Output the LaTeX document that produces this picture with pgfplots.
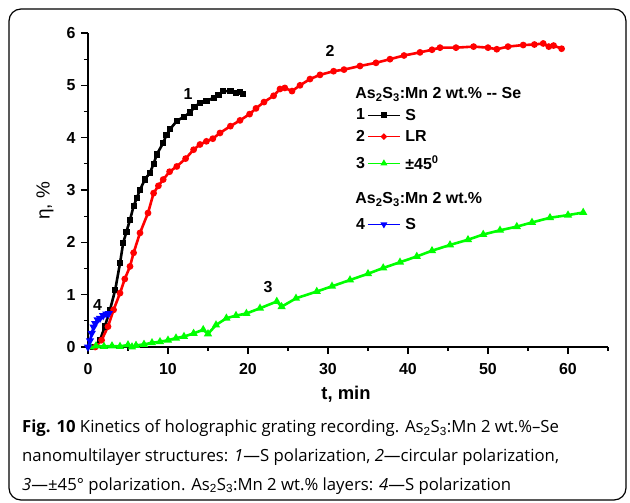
\documentclass[border=0pt]{standalone}
\usepackage{fontspec}
\usepackage{pgfplots}
\pgfplotsset{compat=1.18}
\setmainfont{Liberation Sans}
\newfontfamily\capfont{Open Sans}

\pgfplotstableread{
x y
0.7 0
1.5 0.13
2.1 0.39
2.75 0.71
3.4 1.09
4.0 1.6
4.4 1.99
4.8 2.2
5.25 2.43
5.7 2.69
6.1 2.85
6.5 3.0
7.1 3.2
7.75 3.33
8.2 3.5
8.6 3.68
9.4 3.9
9.8 4.05
10.25 4.16
11.1 4.32
12.0 4.4
12.75 4.48
13.3 4.58
14.0 4.67
14.8 4.7
15.7 4.76
16.3 4.82
16.9 4.89
17.8 4.89
18.5 4.85
19.0 4.88
19.4 4.84
}\sone

\pgfplotstableread{
x y
0.9 0
1.7 0.13
2.5 0.39
3.2 0.71
4.0 1.03
4.6 1.3
5.25 1.54
5.7 1.8
6.5 2.18
7.5 2.56
8.2 2.94
8.8 3.08
9.4 3.2
10.2 3.35
11.1 3.45
12.2 3.6
13.2 3.77
14.0 3.87
14.8 3.93
15.6 3.98
16.5 4.09
17.8 4.22
19.0 4.33
20.2 4.45
21.0 4.56
22.0 4.68
23.2 4.8
24.0 4.93
24.6 4.95
25.5 4.89
26.5 5.0
27.75 5.12
29.0 5.2
30.7 5.27
32.0 5.3
34.0 5.37
36.0 5.43
37.75 5.5
39.5 5.57
41.5 5.63
43.0 5.68
44.0 5.72
46.0 5.72
48.2 5.74
50.0 5.72
51.1 5.69
52.5 5.74
54.4 5.77
55.8 5.78
56.9 5.8
57.6 5.74
58.2 5.76
59.2 5.7
}\stwo

\pgfplotstableread{
x y
0.3 0
1.0 0.02
2.0 0.01
3.0 0.02
4.0 0.01
5.0 0.04
5.5 0.0
6.0 0.03
7.0 0.05
8.0 0.08
9.0 0.1
10.0 0.13
11.0 0.17
12.0 0.2
13.2 0.26
14.4 0.33
15.0 0.25
16.0 0.42
17.3 0.55
18.5 0.6
19.8 0.64
21.5 0.74
23.6 0.87
24.2 0.77
26.0 0.93
28.6 1.06
30.5 1.16
32.75 1.28
35.0 1.4
36.9 1.51
39.0 1.62
41.1 1.73
43.0 1.84
45.25 1.95
47.5 2.05
49.4 2.15
51.5 2.23
53.6 2.3
55.5 2.38
57.75 2.47
60.0 2.52
61.9 2.57
}\sthree

\pgfplotstableread{
x y
0 0
0.25 0.12
0.46 0.26
0.7 0.38
0.9 0.45
1.2 0.52
1.5 0.55
1.9 0.6
2.3 0.63
2.6 0.64
}\sfour

\begin{document}
\begin{tikzpicture}
\path[use as bounding box] (0,0) rectangle (630bp,503bp);
\draw[line width=1.2bp, rounded corners=12bp] (9bp,3bp) rectangle (626bp,494bp);

\begin{axis}[
    at={(88bp,156bp)}, anchor=south west,
    width=520bp, height=314bp, scale only axis,
    xmin=0, xmax=65, ymin=0, ymax=6,
    axis x line*=bottom, axis y line*=left,
    axis line style={line width=1.3bp},
    xtick={0,10,...,60}, minor xtick={5,15,...,65},
    ytick={0,1,...,6}, minor ytick={0.5,1.5,...,5.5},
    tick align=outside,
    major tick length=7bp, minor tick length=4bp,
    every tick/.style={line width=1.2bp, black},
    tick label style={font=\fontsize{16}{18}\selectfont\bfseries},
    xticklabel style={yshift=-6bp},
    yticklabel style={xshift=-2bp},
    /pgf/number format/assume math mode=true,
    clip=false,
    legend style={at={(axis cs:33.5,4.96)}, anchor=north west, draw=none, fill=none,
        font=\fontsize{16}{18}\selectfont\bfseries, row sep=4bp, inner sep=0pt,
        nodes={inner sep=0pt}, column sep=5bp},
    legend cell align=left,
    numimg/.style 2 args={legend image code/.code={
        \path[draw=none, fill=none] (0bp,-#2bp) -- (0bp,#2bp);
        \node[anchor=west, inner sep=0pt, text=black] at (-13bp,0bp) {#1};
        \draw[##1, line width=1bp, mark=none] (0bp,0bp) -- (32bp,0bp);
        \path[##1, mark size=1.5bp] plot coordinates {(16bp,0bp)};}},
]
\addlegendimage{empty legend}
\addlegendentry{\hspace*{-50bp}As$_\mathbf{2}$S$_\mathbf{3}$:Mn 2 wt.\% -{}- Se}
\addplot[black, line width=2.6bp, mark=square*, mark size=1.8bp, numimg={1}{11}] table {\sone};
\addlegendentry{S}
\addplot[red, line width=2.6bp, mark=*, mark size=2bp, numimg={2}{0}] table {\stwo};
\addlegendentry{LR}
\addplot[green, line width=2.6bp, mark=triangle*, mark size=2.2bp, numimg={3}{16.5}] table {\sthree};
\addlegendentry{±45\textsuperscript{0}}
\addlegendimage{empty legend}
\addlegendentry{\hspace*{-50bp}\rule{0pt}{20bp}As$_\mathbf{2}$S$_\mathbf{3}$:Mn 2 wt.\%}
\addplot[blue, line width=2.6bp, mark=triangle*, mark size=2.2bp, mark options={rotate=180}, numimg={4}{15}] table {\sfour};
\addlegendentry{S}

\node[font=\fontsize{16}{18}\selectfont\bfseries] at (axis cs:12.5,4.83) {1};
\node[font=\fontsize{16}{18}\selectfont\bfseries] at (axis cs:30.25,5.65) {2};
\node[font=\fontsize{16}{18}\selectfont\bfseries] at (axis cs:22.5,1.15) {3};
\node[font=\fontsize{16}{18}\selectfont\bfseries] at (axis cs:1.2,0.8) {4};
\end{axis}

\node[font=\fontsize{18.5}{20}\selectfont\bfseries] at (346bp,109bp) {t, min};
\node[rotate=90, font=\fontsize{19}{21}\selectfont] at (45bp,302bp) {η, \%};

\begin{scope}[every node/.style={anchor=base west, inner sep=0pt, font=\capfont\fontsize{16.8}{19}\selectfont}]
\node at (22bp,70bp) {\textbf{Fig. 10} Kinetics of holographic grating recording. As$_\mathrm{2}$S$_\mathrm{3}$:Mn 2 wt.\%–Se};
\node at (22bp,41.5bp) {nanomultilayer structures: \textit{1}—S polarization, \textit{2}—circular polarization,};
\node at (22bp,13bp) {\textit{3}—±45° polarization. As$_\mathrm{2}$S$_\mathrm{3}$:Mn 2 wt.\% layers: \textit{4}—S polarization};
\end{scope}
\end{tikzpicture}
\end{document}
